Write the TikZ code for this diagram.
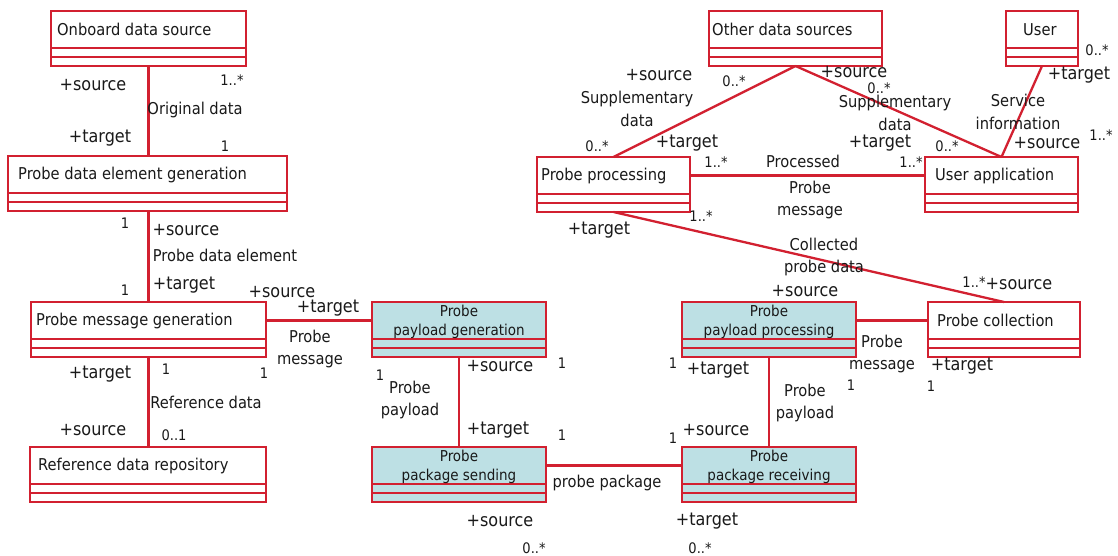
\documentclass[tikz,border=0pt]{standalone}
\usepackage{fontspec}
\setmainfont{DejaVu Sans Condensed}
\definecolor{umlred}{RGB}{210,32,48}
\definecolor{umlblue}{RGB}{189,224,228}
\definecolor{txt}{RGB}{25,25,25}
\tikzset{
 classbox/.style={draw=umlred, line width=2.3pt, anchor=north west, minimum height=55pt, inner sep=0pt, outer sep=0pt},
 cname/.style={font=\fontsize{16.3}{19}\selectfont, text=txt, anchor=west, inner sep=0pt},
 bname/.style={font=\fontsize{15}{19}\selectfont, text=txt, align=center, inner sep=0pt},
 role/.style={font=\fontsize{17.8}{20}\selectfont, text=txt, inner sep=0pt},
 mult/.style={font=\fontsize{14.5}{16}\selectfont, text=txt, inner sep=0pt},
 assoc/.style={font=\fontsize{16.3}{22.5}\selectfont, text=txt, align=center, inner sep=0pt},
 conn/.style={draw=umlred, line width=2.3pt},
}
\newcommand\umlclass[5][white]{%
 \node[classbox, fill=#1, minimum width=#5pt] (#2) at (#3,#4) {};
 \draw[umlred, line width=2.3pt] ([yshift=-37pt]#2.north west) -- ([yshift=-37pt]#2.north east)
   ([yshift=-46pt]#2.north west) -- ([yshift=-46pt]#2.north east);
}
\begin{document}
\begin{tikzpicture}[x=1pt,y=-1pt]
\useasboundingbox (0,0) rectangle (1118,555);
% classes
\umlclass{ods}{51}{11}{195}
\umlclass{pdeg}{8}{156}{279}
\umlclass{pmg}{31}{302}{235}
\umlclass{rdr}{30}{447}{236}
\umlclass[umlblue]{ppg}{372}{302}{174}
\umlclass[umlblue]{pps}{372}{447}{174}
\umlclass[umlblue]{ppr}{682}{447}{174}
\umlclass[umlblue]{ppp}{682}{302}{174}
\umlclass{pcol}{928}{302}{152}
\umlclass{other}{709}{11}{173}
\umlclass{user}{1006}{11}{72}
\umlclass{pproc}{537}{157}{153}
\umlclass{uapp}{925}{157}{153}
% class names
\node[cname] (t-ods) at ([xshift=6pt,yshift=-18.5pt]ods.north west) {Onboard data source};
\node[cname] (t-pdeg) at ([xshift=10pt,yshift=-18.5pt]pdeg.north west) {Probe data element generation};
\node[cname] (t-pmg) at ([xshift=5pt,yshift=-18.5pt]pmg.north west) {Probe message generation};
\node[cname] (t-rdr) at ([xshift=8pt,yshift=-18.5pt]rdr.north west) {Reference data repository};
\node[cname] (t-pcol) at ([xshift=9pt,yshift=-18.5pt]pcol.north west) {Probe collection};
\node[cname] (t-other) at ([xshift=3pt,yshift=-18.5pt]other.north west) {Other data sources};
\node[cname] (t-user) at ([xshift=17pt,yshift=-18.5pt]user.north west) {User};
\node[cname] (t-pproc) at ([xshift=4pt,yshift=-18.5pt]pproc.north west) {Probe processing};
\node[cname] (t-uapp) at ([xshift=10pt,yshift=-18.5pt]uapp.north west) {User application};
\node[bname] (t-ppg) at ([yshift=-20pt]ppg.north) {Probe\\payload generation};
\node[bname] (t-pps) at ([yshift=-20pt]pps.north) {Probe\\package sending};
\node[bname] (t-ppr) at ([yshift=-20pt]ppr.north) {Probe\\package receiving};
\node[bname] (t-ppp) at ([yshift=-20pt]ppp.north) {Probe\\payload processing};
% connectors
\draw[conn] (ods.south) -- (ods.south |- pdeg.north);
\draw[conn] (ods.south |- pdeg.south) -- (ods.south |- pmg.north);
\draw[conn] (pmg.south) -- (pmg.south |- rdr.north);
\draw[conn] ([yshift=-18.5pt]pmg.north east) -- ([yshift=-18.5pt]ppg.north west);
\draw[conn] (ppg.south) -- (pps.north);
\draw[conn] ([yshift=-18.5pt]pps.north east) -- ([yshift=-18.5pt]ppr.north west);
\draw[conn] (ppr.north) -- (ppp.south);
\draw[conn] ([yshift=-18.5pt]ppp.north east) -- ([yshift=-18.5pt]pcol.north west);
\draw[conn] (pcol.north) -- (pproc.south);
\draw[conn] (pproc.north) -- (other.south);
\draw[conn] (other.south) -- (uapp.north);
\draw[conn] (user.south) -- (uapp.north);
\draw[conn] ([yshift=-18.5pt]pproc.north east) -- ([yshift=-18.5pt]uapp.north west);
% left column labels
\node[role] (r1) at (93,85) {+source};
\node[mult] (m1) at (232,80) {1..*};
\node[assoc] (a1) at (195,110) {Original data};
\node[role] (r2) at (100,138) {+target};
\node[mult] (m2) at (225,146) {1};
\node[mult] (m3) at (125,223) {1};
\node[role] (r3) at (186,230) {+source};
\node[assoc] (a2) at (225,255) {Probe data element};
\node[role] (r4) at (184,285) {+target};
\node[mult] (m4) at (125,290) {1};
\node[role] (r5) at (282,292) {+source};
\node[role] (r6) at (328,308) {+target};
\node[assoc] (a3) at (310,349) {Probe\\message};
\node[mult] (m5) at (166,369) {1};
\node[mult] (m6) at (264,373) {1};
\node[role] (r7) at (100,374) {+target};
\node[assoc] (a4) at (206,402) {Reference data};
\node[role] (r8) at (93,430) {+source};
\node[mult] (m7) at (174,435) {0..1};
% middle labels
\node[role] (r9) at (500,366) {+source};
\node[mult] (m8) at (562,363) {1};
\node[mult] (m9) at (380,375) {1};
\node[assoc] (a5) at (410,400) {Probe\\payload};
\node[role] (r10) at (498,430) {+target};
\node[mult] (m10) at (562,435) {1};
\node[assoc] (a6) at (607,483) {probe package};
\node[role] (r11) at (500,521) {+source};
\node[mult] (m11) at (534,548) {0..*};
\node[mult] (m12) at (673,438) {1};
\node[mult] (m13) at (673,363) {1};
\node[role] (r12) at (716,430) {+source};
\node[role] (r13) at (707,521) {+target};
\node[mult] (m14) at (700,548) {0..*};
\node[role] (r14) at (718,370) {+target};
\node[assoc] (a7) at (805,403) {Probe\\payload};
\node[assoc] (a8) at (882,354) {Probe\\message};
\node[mult] (m15) at (851,385) {1};
\node[role] (r15) at (962,366) {+target};
\node[mult] (m16) at (931,386) {1};
\node[mult] (m17) at (974,282) {1..*};
\node[role] (r16) at (1019,284) {+source};
\node[role] (r17) at (805,291) {+source};
\node[assoc] (a9) at (824,257) {Collected\\probe data};
\node[mult] (m18) at (701,216) {1..*};
\node[role] (r18) at (599,230) {+target};
% top right labels
\node[role] (r19) at (659,75) {+source};
\node[mult] (m19) at (734,81) {0..*};
\node[assoc] (a10) at (637,109) {Supplementary\\data};
\node[mult] (m20) at (597,146) {0..*};
\node[role] (r20) at (687,143) {+target};
\node[mult] (m21) at (716,162) {1..*};
\node[assoc] (a11) at (803,161) {Processed};
\node[assoc] (a12) at (810,200) {Probe\\message};
\node[role] (r21) at (854,72) {+source};
\node[mult] (m22) at (879,88) {0..*};
\node[assoc] (a13) at (895,113) {Supplementary\\data};
\node[role] (r22) at (880,143) {+target};
\node[mult] (m23) at (947,146) {0..*};
\node[mult] (m24) at (911,162) {1..*};
\node[mult] (m25) at (1097,50) {0..*};
\node[role] (r23) at (1079,75) {+target};
\node[assoc] (a14) at (1018,112) {Service\\information};
\node[role] (r24) at (1047,143) {+source};
\node[mult] (m26) at (1101,135) {1..*};
\end{tikzpicture}
\end{document}
